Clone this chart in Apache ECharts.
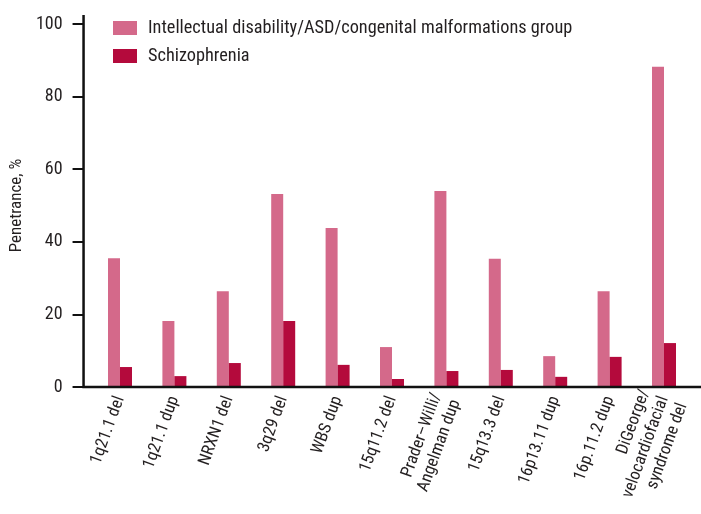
<!DOCTYPE html>
<html>
<head>
<meta charset="utf-8">
<script src="https://cdn.jsdelivr.net/npm/echarts@6/dist/echarts.min.js"></script>
<style>
  html, body { margin: 0; padding: 0; background: #fff; }
  #chart { width: 701px; height: 514px; }
</style>
</head>
<body>
<div id="chart"></div>
<script>
// CNV categories (x axis labels)
const categories = [
  '1q21.1 del', '1q21.1 dup', 'NRXN1 del', '3q29 del', 'WBS dup', '15q11.2 del',
  'Prader–Willi/\nAngelman dup', '15q13.3 del', '16p13.11 dup', '16p.11.2 dup',
  'DiGeorge/\nvelocardiofacial\nsyndrome del'
];
// Penetrance, % per group
const idAsdValues = [35.5, 18.2, 26.4, 53.2, 43.8, 11.0, 54.0, 35.3, 8.5, 26.4, 88.2];
const schizValues = [5.5, 3.0, 6.6, 18.2, 6.1, 2.2, 4.4, 4.7, 2.8, 8.3, 12.1];
const seriesNames = ['Intellectual disability/ASD/congenital malformations group', 'Schizophrenia'];
const yTicks = [0, 20, 40, 60, 80, 100];

const FONT = "'Liberation Sans Narrow', 'Roboto Condensed', 'Arial Narrow', 'DejaVu Sans Condensed', sans-serif";
const TEXT = '#231f20';
const AXIS = '#111';
const AXIS_WIDTH = 2.5;
const AXIS_OVERSHOOT = 9; // y axis line runs a little past the top tick

const chart = echarts.init(document.getElementById('chart'), null, { renderer: 'canvas' });

const yRange = { min: yTicks[0], max: yTicks[yTicks.length - 1], interval: 20 };

chart.setOption({
  animation: false,
  backgroundColor: '#fff',
  textStyle: { fontFamily: FONT, color: TEXT },
  grid: [
    // bar area, one band per CNV
    { left: 92.8, right: 9.8, top: 24, bottom: 127, containLabel: false },
    // y scale with ticks and labels, spanning the full axis frame
    { left: 83, right: 0, top: 24, bottom: 127, containLabel: false }
  ],
  legend: {
    orient: 'vertical',
    left: 113,
    top: 19,
    padding: 0,
    itemWidth: 24,
    itemHeight: 14,
    itemGap: 10,
    icon: 'rect',
    textStyle: { fontFamily: FONT, fontSize: 18.3, color: TEXT, padding: [0, 0, 0, 6] },
    data: seriesNames
  },
  xAxis: [
    {
      gridIndex: 0,
      type: 'category',
      data: categories,
      axisLine: { show: false },
      axisTick: { show: false },
      axisLabel: {
        interval: 0,
        rotate: 70,
        margin: 10,
        fontFamily: FONT,
        fontSize: 17,
        color: TEXT,
        lineHeight: 20
      }
    },
    { gridIndex: 1, type: 'value', min: 0, max: 1, show: false }
  ],
  yAxis: [
    { gridIndex: 0, type: 'value', ...yRange, show: false },
    {
      gridIndex: 1,
      type: 'value',
      ...yRange,
      name: 'Penetrance, %',
      nameLocation: 'middle',
      nameGap: 49,
      nameTextStyle: { fontFamily: FONT, fontSize: 17, color: TEXT },
      splitLine: { show: false },
      axisLine: { show: false },
      axisTick: { show: true, inside: false, length: 11, lineStyle: { color: AXIS, width: 2 } },
      axisLabel: { margin: 21, fontFamily: FONT, fontSize: 18, color: TEXT }
    }
  ],
  series: [
    {
      name: seriesNames[0],
      type: 'bar',
      xAxisIndex: 0,
      yAxisIndex: 0,
      data: idAsdValues,
      barWidth: 12,
      barGap: '0%',
      itemStyle: { color: '#d4698a' }
    },
    {
      name: seriesNames[1],
      type: 'bar',
      xAxisIndex: 0,
      yAxisIndex: 0,
      data: schizValues,
      barWidth: 12,
      barGap: '0%',
      itemStyle: { color: '#b40a3c' }
    }
  ]
});

// L-shaped axis frame, placed from the frame grid's own scales
const xLeft = chart.convertToPixel({ xAxisIndex: 1 }, 0);
const xRight = chart.convertToPixel({ xAxisIndex: 1 }, 1);
const yBase = chart.convertToPixel({ yAxisIndex: 1 }, yRange.min);
const yTop = chart.convertToPixel({ yAxisIndex: 1 }, yRange.max) - AXIS_OVERSHOOT;

chart.setOption({
  graphic: [
    {
      type: 'polyline',
      silent: true,
      z: 10,
      shape: { points: [[xLeft, yTop], [xLeft, yBase], [xRight, yBase]] },
      style: { stroke: AXIS, lineWidth: AXIS_WIDTH, fill: null, lineJoin: 'miter', lineCap: 'butt' }
    }
  ]
});
</script>
</body>
</html>
